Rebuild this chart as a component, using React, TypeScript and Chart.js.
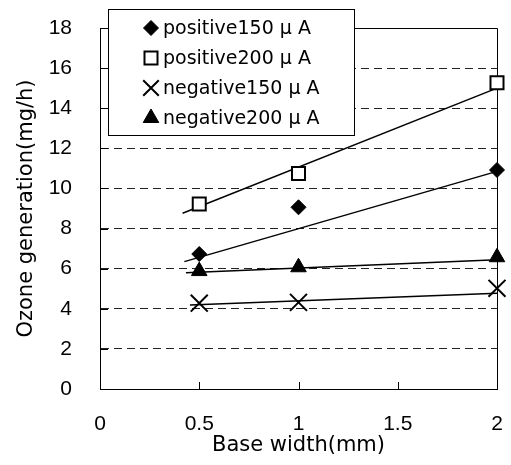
import React, { useEffect, useRef } from "react";
import { Chart, registerables } from "chart.js";

Chart.register(...registerables);

// ---- data ----
const xTicks = [0, 0.5, 1, 1.5, 2];
const yTicks = [0, 2, 4, 6, 8, 10, 12, 14, 16, 18];
const baseWidth = [0.5, 1, 2];

const positive150 = [6.73, 9.06, 10.92];
const positive200 = [9.22, 10.75, 15.27];
const negative150 = [4.28, 4.32, 5.02];
const negative200 = [5.88, 6.07, 6.57];

const seriesNames = [
  "positive150 μ A",
  "positive200 μ A",
  "negative150 μ A",
  "negative200 μ A",
];

// trend lines (start / end)
const positive150TrendX = [0.425, 2];
const positive150TrendY = [6.35, 10.85];
const positive200TrendX = [0.416, 2];
const positive200TrendY = [8.76, 15.0];
const negative150TrendX = [0.453, 2];
const negative150TrendY = [4.19, 4.77];
const negative200TrendX = [0.433, 2];
const negative200TrendY = [5.8, 6.44];

const xTitle = "Base width(mm)";
const yTitle = "Ozone generation(mg/h)";

const TICK_FONT = '"Liberation Sans", Arial, sans-serif';
const TEXT_FONT = '"DejaVu Sans", sans-serif';

const pts = (xs: number[], ys: number[]) => xs.map((x, i) => ({ x, y: ys[i] }));

type MarkerSpec = {
  style: string;
  radius: number;
  fill: string;
  stroke: string;
  width: number;
};

const markers: MarkerSpec[] = [
  { style: "rectRot", radius: 7.5, fill: "#000", stroke: "#000", width: 1 },
  { style: "rect", radius: 9.2, fill: "#fff", stroke: "#000", width: 2 },
  { style: "crossRot", radius: 12, fill: "#000", stroke: "#000", width: 2 },
  { style: "triangle", radius: 9, fill: "#000", stroke: "#000", width: 1 },
];

function drawMarker(ctx: CanvasRenderingContext2D, m: MarkerSpec, x: number, y: number) {
  const r = m.radius;
  ctx.save();
  ctx.beginPath();
  ctx.lineWidth = m.width;
  ctx.strokeStyle = m.stroke;
  ctx.fillStyle = m.fill;
  if (m.style === "rectRot") {
    ctx.moveTo(x - r, y);
    ctx.lineTo(x, y - r);
    ctx.lineTo(x + r, y);
    ctx.lineTo(x, y + r);
    ctx.closePath();
    ctx.fill();
    ctx.stroke();
  } else if (m.style === "rect") {
    const s = Math.SQRT1_2 * r;
    ctx.rect(x - s, y - s, 2 * s, 2 * s);
    ctx.fill();
    ctx.stroke();
  } else if (m.style === "crossRot") {
    const s = Math.SQRT1_2 * r;
    ctx.moveTo(x - s, y - s);
    ctx.lineTo(x + s, y + s);
    ctx.moveTo(x - s, y + s);
    ctx.lineTo(x + s, y - s);
    ctx.stroke();
  } else {
    ctx.moveTo(x, y - r);
    ctx.lineTo(x + 0.866 * r, y + 0.5 * r);
    ctx.lineTo(x - 0.866 * r, y + 0.5 * r);
    ctx.closePath();
    ctx.fill();
    ctx.stroke();
  }
  ctx.restore();
}

const framePlugin = {
  id: "frameAndLegend",
  beforeDatasetsDraw(chart: any) {
    const { ctx, chartArea: a, scales } = chart;
    const xs = scales.x;
    const ys = scales.y;
    ctx.save();
    ctx.strokeStyle = "#000";
    ctx.lineWidth = 1;
    ctx.beginPath();
    const top = Math.round(a.top) + 0.5;
    const right = Math.round(a.right) + 0.5;
    ctx.moveTo(a.left, top);
    ctx.lineTo(right, top);
    ctx.lineTo(right, a.bottom);
    yTicks.forEach((v) => {
      const py = Math.round(ys.getPixelForValue(v)) + 0.5;
      ctx.moveTo(a.left, py);
      ctx.lineTo(a.left + 8, py);
    });
    xTicks.forEach((v) => {
      const px = Math.round(xs.getPixelForValue(v)) + 0.5;
      ctx.moveTo(px, a.bottom);
      ctx.lineTo(px, a.bottom - 7);
    });
    ctx.stroke();
    ctx.restore();
  },
  afterDraw(chart: any) {
    const { ctx, chartArea: a } = chart;
    const lx = a.left + 8;
    const ly = a.top - 19;
    const lw = 246;
    const lh = 126;
    ctx.save();
    ctx.fillStyle = "#fff";
    ctx.fillRect(lx, ly, lw, lh);
    ctx.strokeStyle = "#000";
    ctx.lineWidth = 1;
    ctx.strokeRect(lx + 0.5, ly + 0.5, lw, lh);
    ctx.font = `19px ${TEXT_FONT}`;
    ctx.fillStyle = "#000";
    ctx.textBaseline = "middle";
    ctx.textAlign = "left";
    seriesNames.forEach((name, i) => {
      const cy = ly + 19 + i * 30;
      const m = { ...markers[i] };
      if (m.style === "crossRot") m.radius = 11;
      drawMarker(ctx, m, lx + 43, cy);
      ctx.fillStyle = "#000";
      ctx.fillText(name, lx + 55, cy + 1);
    });
    ctx.restore();
  },
};

export default function App() {
  const canvasRef = useRef<HTMLCanvasElement | null>(null);

  useEffect(() => {
    document.body.style.margin = "0";
    const canvas = canvasRef.current;
    if (!canvas) return;

    const seriesValues = [positive150, positive200, negative150, negative200];
    const markerSets = seriesValues.map((vals, i) => ({
      label: seriesNames[i],
      data: pts(baseWidth, vals),
      showLine: false,
      pointStyle: markers[i].style,
      pointRadius: markers[i].radius,
      pointHoverRadius: markers[i].radius,
      pointBackgroundColor: markers[i].fill,
      pointBorderColor: markers[i].stroke,
      pointBorderWidth: markers[i].width,
      clip: false,
    }));

    const trends = [
      pts(positive150TrendX, positive150TrendY),
      pts(positive200TrendX, positive200TrendY),
      pts(negative150TrendX, negative150TrendY),
      pts(negative200TrendX, negative200TrendY),
    ].map((d, i) => ({
      label: seriesNames[i] + " trend",
      data: d,
      showLine: true,
      borderColor: "#000",
      borderWidth: 1.5,
      pointRadius: 0,
      pointHoverRadius: 0,
      fill: false,
      clip: false,
    }));

    const chart = new Chart(canvas, {
      type: "scatter",
      data: { datasets: [...markerSets, ...trends] as any },
      options: {
        animation: false,
        responsive: false,
        devicePixelRatio: 1,
        layout: { padding: 0 },
        plugins: {
          legend: { display: false },
          tooltip: { enabled: false },
        },
        scales: {
          x: {
            type: "linear",
            min: 0,
            max: 2,
            afterBuildTicks: (s: any) => {
              s.ticks = xTicks.map((v) => ({ value: v }));
            },
            afterFit: (s: any) => {
              s.height = 76;
              s.paddingLeft = 0;
              s.paddingRight = 10;
            },
            ticks: {
              color: "#000",
              font: { family: TICK_FONT, size: 21 },
              padding: 23,
              maxRotation: 0,
              autoSkip: false,
              callback: (v: any) => String(v),
            },
            grid: { display: false, drawTicks: false },
            border: { display: true, color: "#000", width: 1 },
            title: {
              display: true,
              text: xTitle,
              color: "#000",
              font: { family: TEXT_FONT, size: 21 },
              padding: { top: 0, bottom: 7 },
            },
          },
          y: {
            type: "linear",
            min: 0,
            max: 18,
            afterBuildTicks: (s: any) => {
              s.ticks = yTicks.map((v) => ({ value: v }));
            },
            afterFit: (s: any) => {
              s.width = 100;
              s.paddingTop = 28;
              s.paddingBottom = 0;
            },
            ticks: {
              color: "#000",
              font: { family: TICK_FONT, size: 21 },
              padding: 28,
              autoSkip: false,
            },
            grid: {
              drawTicks: false,
              lineWidth: 1,
              color: (c: any) =>
                c.tick && (c.tick.value === 0 || c.tick.value === 18)
                  ? "rgba(0,0,0,0)"
                  : "#222",
            } as any,
            border: { display: true, color: "#000", width: 1, dash: [8, 5] },
            title: {
              display: true,
              text: yTitle,
              color: "#000",
              font: { family: TEXT_FONT, size: 21 },
              padding: { top: 14, bottom: 0 },
            },
          },
        },
      } as any,
      plugins: [framePlugin],
    });

    return () => chart.destroy();
  }, []);

  return (
    <div style={{ position: "absolute", left: 0, top: 0, width: 511, height: 465, background: "#fff" }}>
      <canvas ref={canvasRef} width={511} height={465} style={{ display: "block", width: 511, height: 465 }} />
    </div>
  );
}
